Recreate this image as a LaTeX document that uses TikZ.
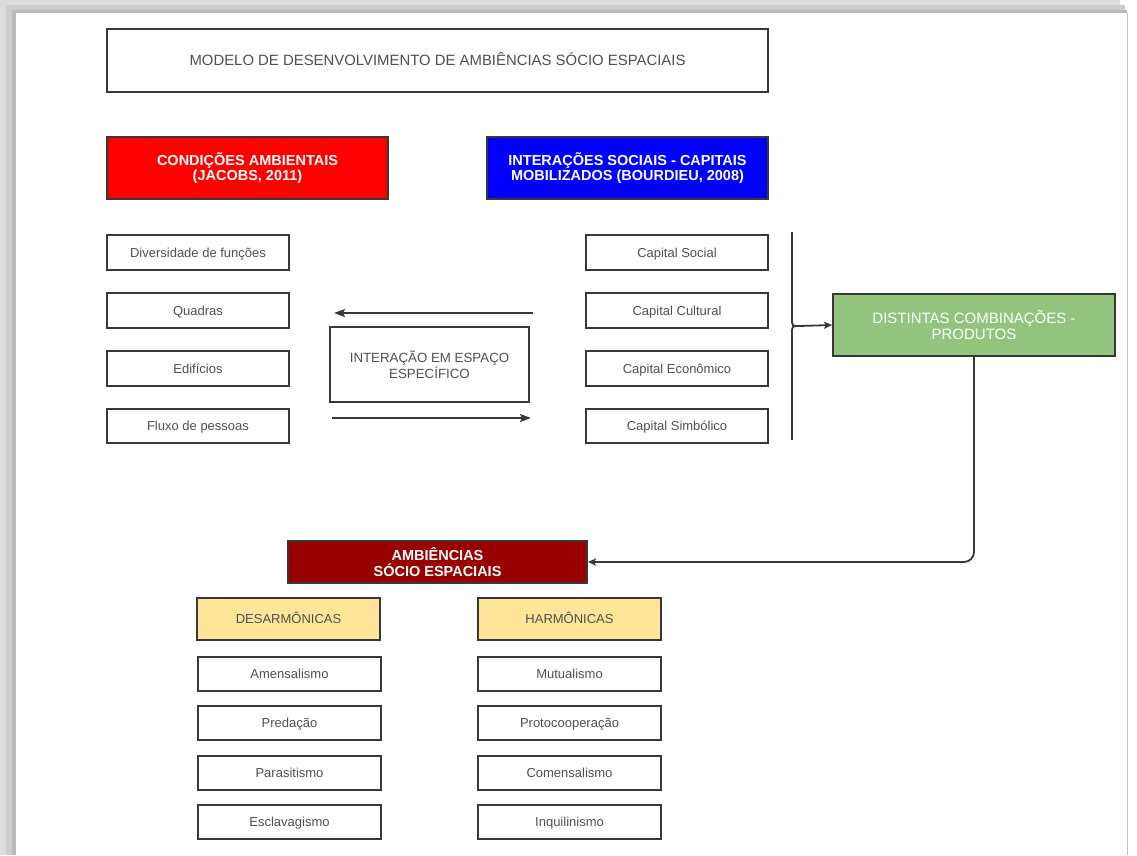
\documentclass[tikz,border=0pt]{standalone}
\usepackage{fontspec}
\setmainfont{Liberation Sans}
\usetikzlibrary{arrows.meta}
\definecolor{txt}{HTML}{505050}
\definecolor{bord}{HTML}{383838}
\definecolor{gfill}{HTML}{93C47D}
\definecolor{drfill}{HTML}{990000}
\definecolor{yfill}{HTML}{FFE599}
\definecolor{fr1}{HTML}{DCDCDC}
\definecolor{fr2}{HTML}{CDCDCD}
\definecolor{fr3}{HTML}{BBBBBB}
\tikzset{
  box/.style={draw=bord, line width=1.8pt, text=txt, align=center, inner sep=0pt, font=\fontsize{13}{15}\selectfont},
  one/.style={text height=10.6pt, text depth=1.4pt},
  head/.style={draw=bord, line width=1.8pt, text=white, align=center, inner sep=0pt, font=\bfseries\fontsize{14.5}{15.5}\selectfont},
  conn/.style={draw=bord, line width=1.8pt, -{Stealth[length=11pt,width=8pt,inset=2pt]}},
  smallconn/.style={draw=bord, line width=1.8pt, -{Stealth[length=8pt,width=7pt,inset=1.5pt]}},
}
\newcommand{\bx}[6]{\node[#1, minimum width=#4pt-#2pt, minimum height=#5pt-#3pt] (#6) at ({(#2+#4)/2},{(#3+#5)/2})}
\begin{document}
\begin{tikzpicture}[x=1pt,y=-1pt]
\useasboundingbox (0,0) rectangle (1137,855);
% page frame
\fill[white] (0,0) rectangle (1137,855);
\fill[fr1] (0,0) rectangle (1120,5);
\fill[fr2] (0,5) rectangle (1125,10);
\fill[fr3] (0,10) rectangle (1127,13);
\fill[fr1] (0,0) rectangle (6,855);
\fill[fr2] (6,10) rectangle (12,855);
\fill[fr3] (12,10) rectangle (16,855);
\fill[white] (16,13) rectangle (1127,855);
\draw[gray!45, line width=1pt] (1127,13) -- (1127,855);
% title
\bx{box,one,font=\fontsize{14.9}{16}\selectfont}{107}{29}{768}{92}{title} {MODELO DE DESENVOLVIMENTO DE AMBIÊNCIAS SÓCIO ESPACIAIS};
% headers
\bx{head,fill=red}{107}{137}{388}{199}{cond} {CONDIÇÕES AMBIENTAIS\\(JACOBS, 2011)};
\bx{head,fill=blue}{487}{137}{768}{199}{inter} {INTERAÇÕES SOCIAIS - CAPITAIS\\MOBILIZADOS (BOURDIEU, 2008)};
% left column
\bx{box,one}{107}{235}{289}{270}{l1} {Diversidade de funções};
\bx{box,one}{107}{293}{289}{328}{l2} {Quadras};
\bx{box,one}{107}{351}{289}{386}{l3} {Edifícios};
\bx{box,one}{107}{409}{289}{443}{l4} {Fluxo de pessoas};
% right column
\bx{box,one}{586}{235}{768}{270}{r1} {Capital Social};
\bx{box,one}{586}{293}{768}{328}{r2} {Capital Cultural};
\bx{box,one}{586}{351}{768}{386}{r3} {Capital Econômico};
\bx{box,one}{586}{409}{768}{443}{r4} {Capital Simbólico};
% center
\bx{box,font=\fontsize{13.3}{15.5}\selectfont}{330}{327}{529}{402}{mid} {INTERAÇÃO EM ESPAÇO\\ESPECÍFICO};
\coordinate (a1s) at (533,313);
\coordinate (a1e) at (334,313);
\coordinate (a2s) at (332,418);
\coordinate (a2e) at (531,418);
\draw[conn] (a1s) -- (a1e);
\draw[conn] (a2s) -- (a2e);
% green
\bx{head,fill=gfill,font=\fontsize{15}{16}\selectfont}{833}{294}{1115}{356}{green} {DISTINTAS COMBINAÇÕES -\\PRODUTOS};
% brace
\coordinate (btop) at (792,232);
\coordinate (bbot) at (792,440);
\coordinate (btip) at (799,326);
\draw[bord, line width=1.8pt] (btop) -- (792,318) .. controls (792,326) .. (btip) .. controls (792,326) .. (792,334) -- (bbot);
\draw[smallconn] (btip) -- (green.west);
% ambiencias
\bx{head,fill=drfill}{288}{541}{587}{583}{amb} {AMBIÊNCIAS\\SÓCIO ESPACIAIS};
\draw[smallconn, rounded corners=10pt] (green.south) |- (amb.east);
% yellow headers
\bx{box,one,fill=yfill}{197}{598}{380}{640}{des} {DESARMÔNICAS};
\bx{box,one,fill=yfill}{478}{598}{661}{640}{har} {HARMÔNICAS};
% lower lists
\bx{box,one}{198}{657}{381}{691}{d1} {Amensalismo};
\bx{box,one}{198}{706}{381}{740}{d2} {Predação};
\bx{box,one}{198}{756}{381}{790}{d3} {Parasitismo};
\bx{box,one}{198}{805}{381}{839}{d4} {Esclavagismo};
\bx{box,one}{478}{657}{661}{691}{h1} {Mutualismo};
\bx{box,one}{478}{706}{661}{740}{h2} {Protocooperação};
\bx{box,one}{478}{756}{661}{790}{h3} {Comensalismo};
\bx{box,one}{478}{805}{661}{839}{h4} {Inquilinismo};
\end{tikzpicture}
\end{document}
